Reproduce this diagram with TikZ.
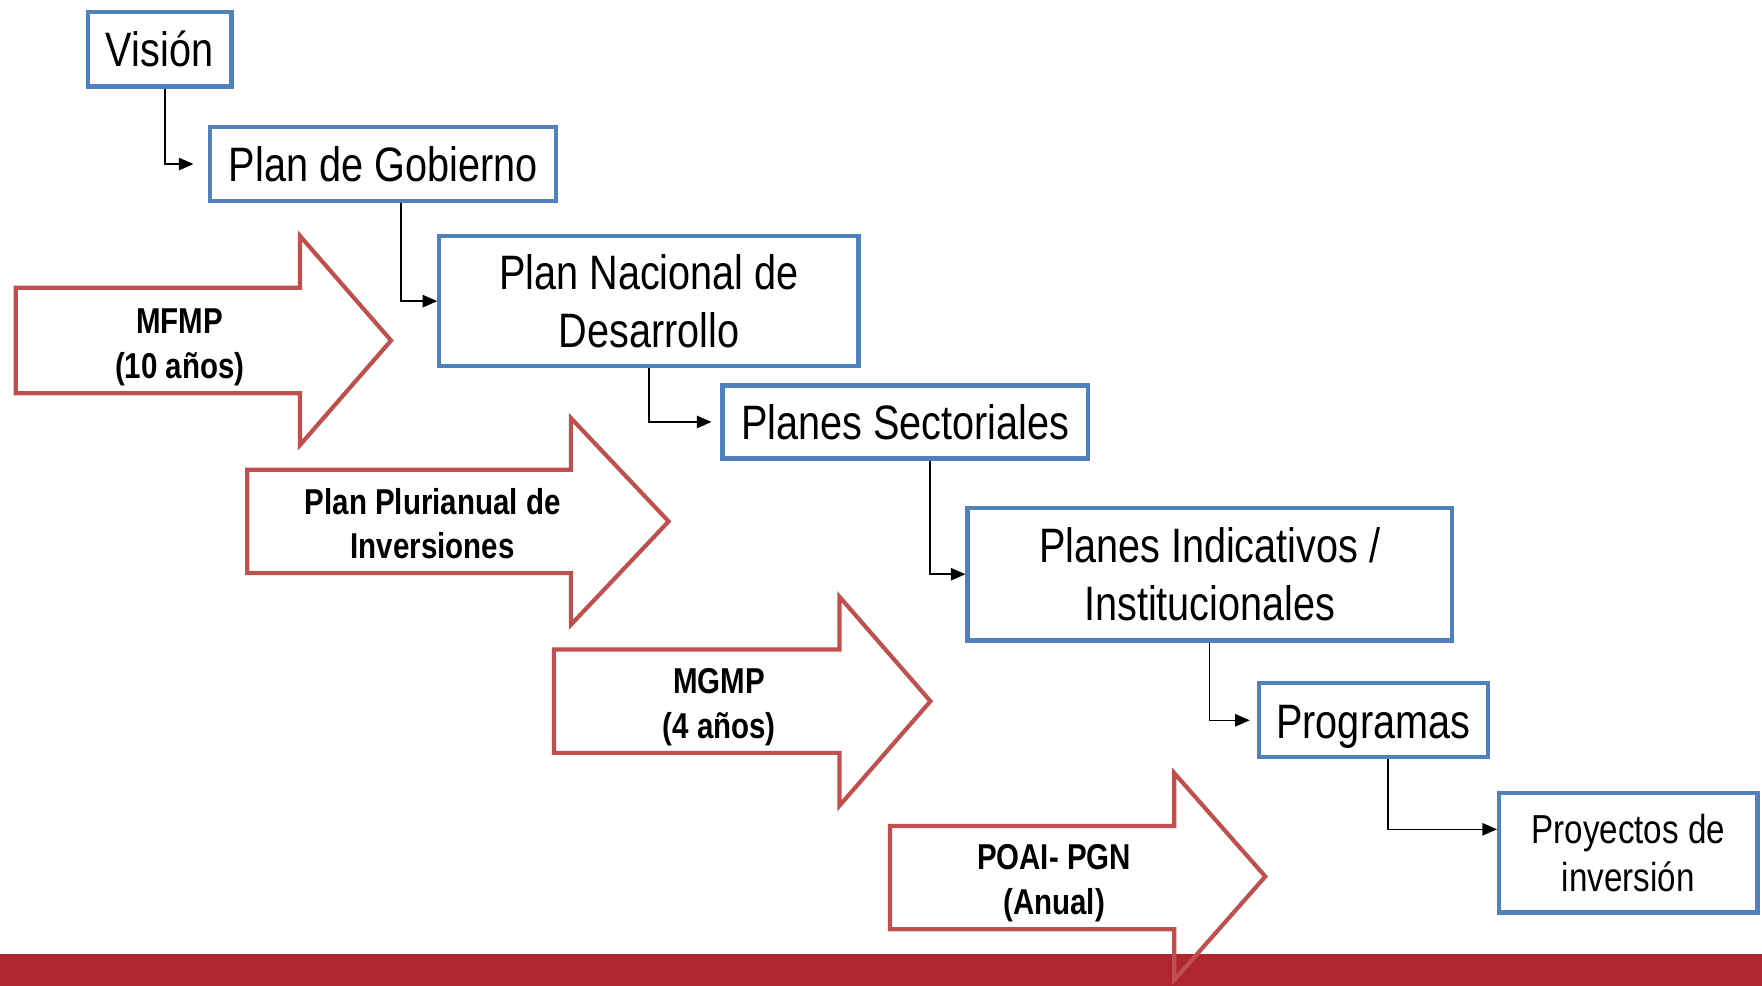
\documentclass[tikz,border=0pt]{standalone}
\usepackage{fontspec}
\setmainfont{Liberation Sans}[FakeStretch=0.82]
\usetikzlibrary{arrows.meta}
\definecolor{boxblue}{HTML}{4F81BD}
\definecolor{arrred}{HTML}{C0504D}
\definecolor{bandred}{HTML}{AF262F}
\tikzset{
  box/.style={draw=boxblue, line width=3.7pt, fill=white, align=center, inner sep=0pt,
    font=\fontsize{43}{52}\selectfont},
  conn/.style={line width=1.3pt, -{Triangle[length=13pt,width=11pt]}},
  blockarrow/.style={draw=arrred, line width=3.7pt, line join=miter},
  alabel/.style={align=center, inner sep=0pt, font=\bfseries\fontsize{32}{40}\selectfont}
}
\begin{document}
\begin{tikzpicture}[x=1pt,y=-1pt]
\useasboundingbox (0,0) rectangle (1568,877);
\fill[bandred] (0,849) rectangle (1568,877);

% boxes
\node[box, minimum width=128pt, minimum height=66pt] (vis) at (142,44) {Visión};
\node[box, minimum width=308pt, minimum height=66pt] (pg) at (341,146) {Plan de Gobierno};
\node[box, minimum width=373pt, minimum height=116pt] (pnd) at (577.5,268) {Plan Nacional de\\Desarrollo};
\node[box, minimum width=325pt, minimum height=65pt] (ps) at (805.5,375.5) {Planes Sectoriales};
\node[box, minimum width=431pt, minimum height=118pt] (pi) at (1076.5,511) {Planes Indicativos /\\Institucionales};
\node[box, minimum width=204pt, minimum height=66pt, text height=33pt, text depth=0pt] (prog) at (1222,641) {Programas};
\node[box, minimum width=230pt, minimum height=106pt, font=\fontsize{36}{43}\selectfont] (proy) at (1449,759) {Proyectos de\\inversión};

% connectors
\draw[conn] ([xshift=5pt]vis.south) |- ([xshift=-13pt]pg.west);
\draw[conn] ([xshift=16pt]pg.south) |- (pnd.west);
\draw[conn] (pnd.south) |- ([xshift=-8pt]ps.west);
\draw[conn] ([xshift=22pt]ps.south) |- (pi.west);
\draw[conn] (pi.south) |- ([xshift=-6pt]prog.west);
\draw[conn] ([xshift=13pt]prog.south) |- ([yshift=21pt]proy.west);

% block arrows
\draw[blockarrow] (14,256) -- (267,256) -- (267,210) -- (348,303) -- (267,396) -- (267,350) -- (14,350) -- cycle;
\node[alabel] (mfmp) at (160,309) {MFMP\\(10 años)};

\draw[blockarrow] (220,418) -- (508,418) -- (508,372) -- (595,464) -- (508,556) -- (508,510) -- (220,510) -- cycle;
\node[alabel] (ppi) at (385,466) {Plan Plurianual de\\Inversiones};

\draw[blockarrow] (493,578) -- (747,578) -- (747,531) -- (828,624) -- (747,717) -- (747,670) -- (493,670) -- cycle;
\node[alabel] (mgmp) at (640,629) {MGMP\\(4 años)};

\draw[blockarrow] (792,735) -- (1045,735) -- (1045,688) -- (1126,780) -- (1045,872) -- (1045,827) -- (792,827) -- cycle;
\node[alabel] (poai) at (938,786) {POAI- PGN\\(Anual)};
\end{tikzpicture}
\end{document}
